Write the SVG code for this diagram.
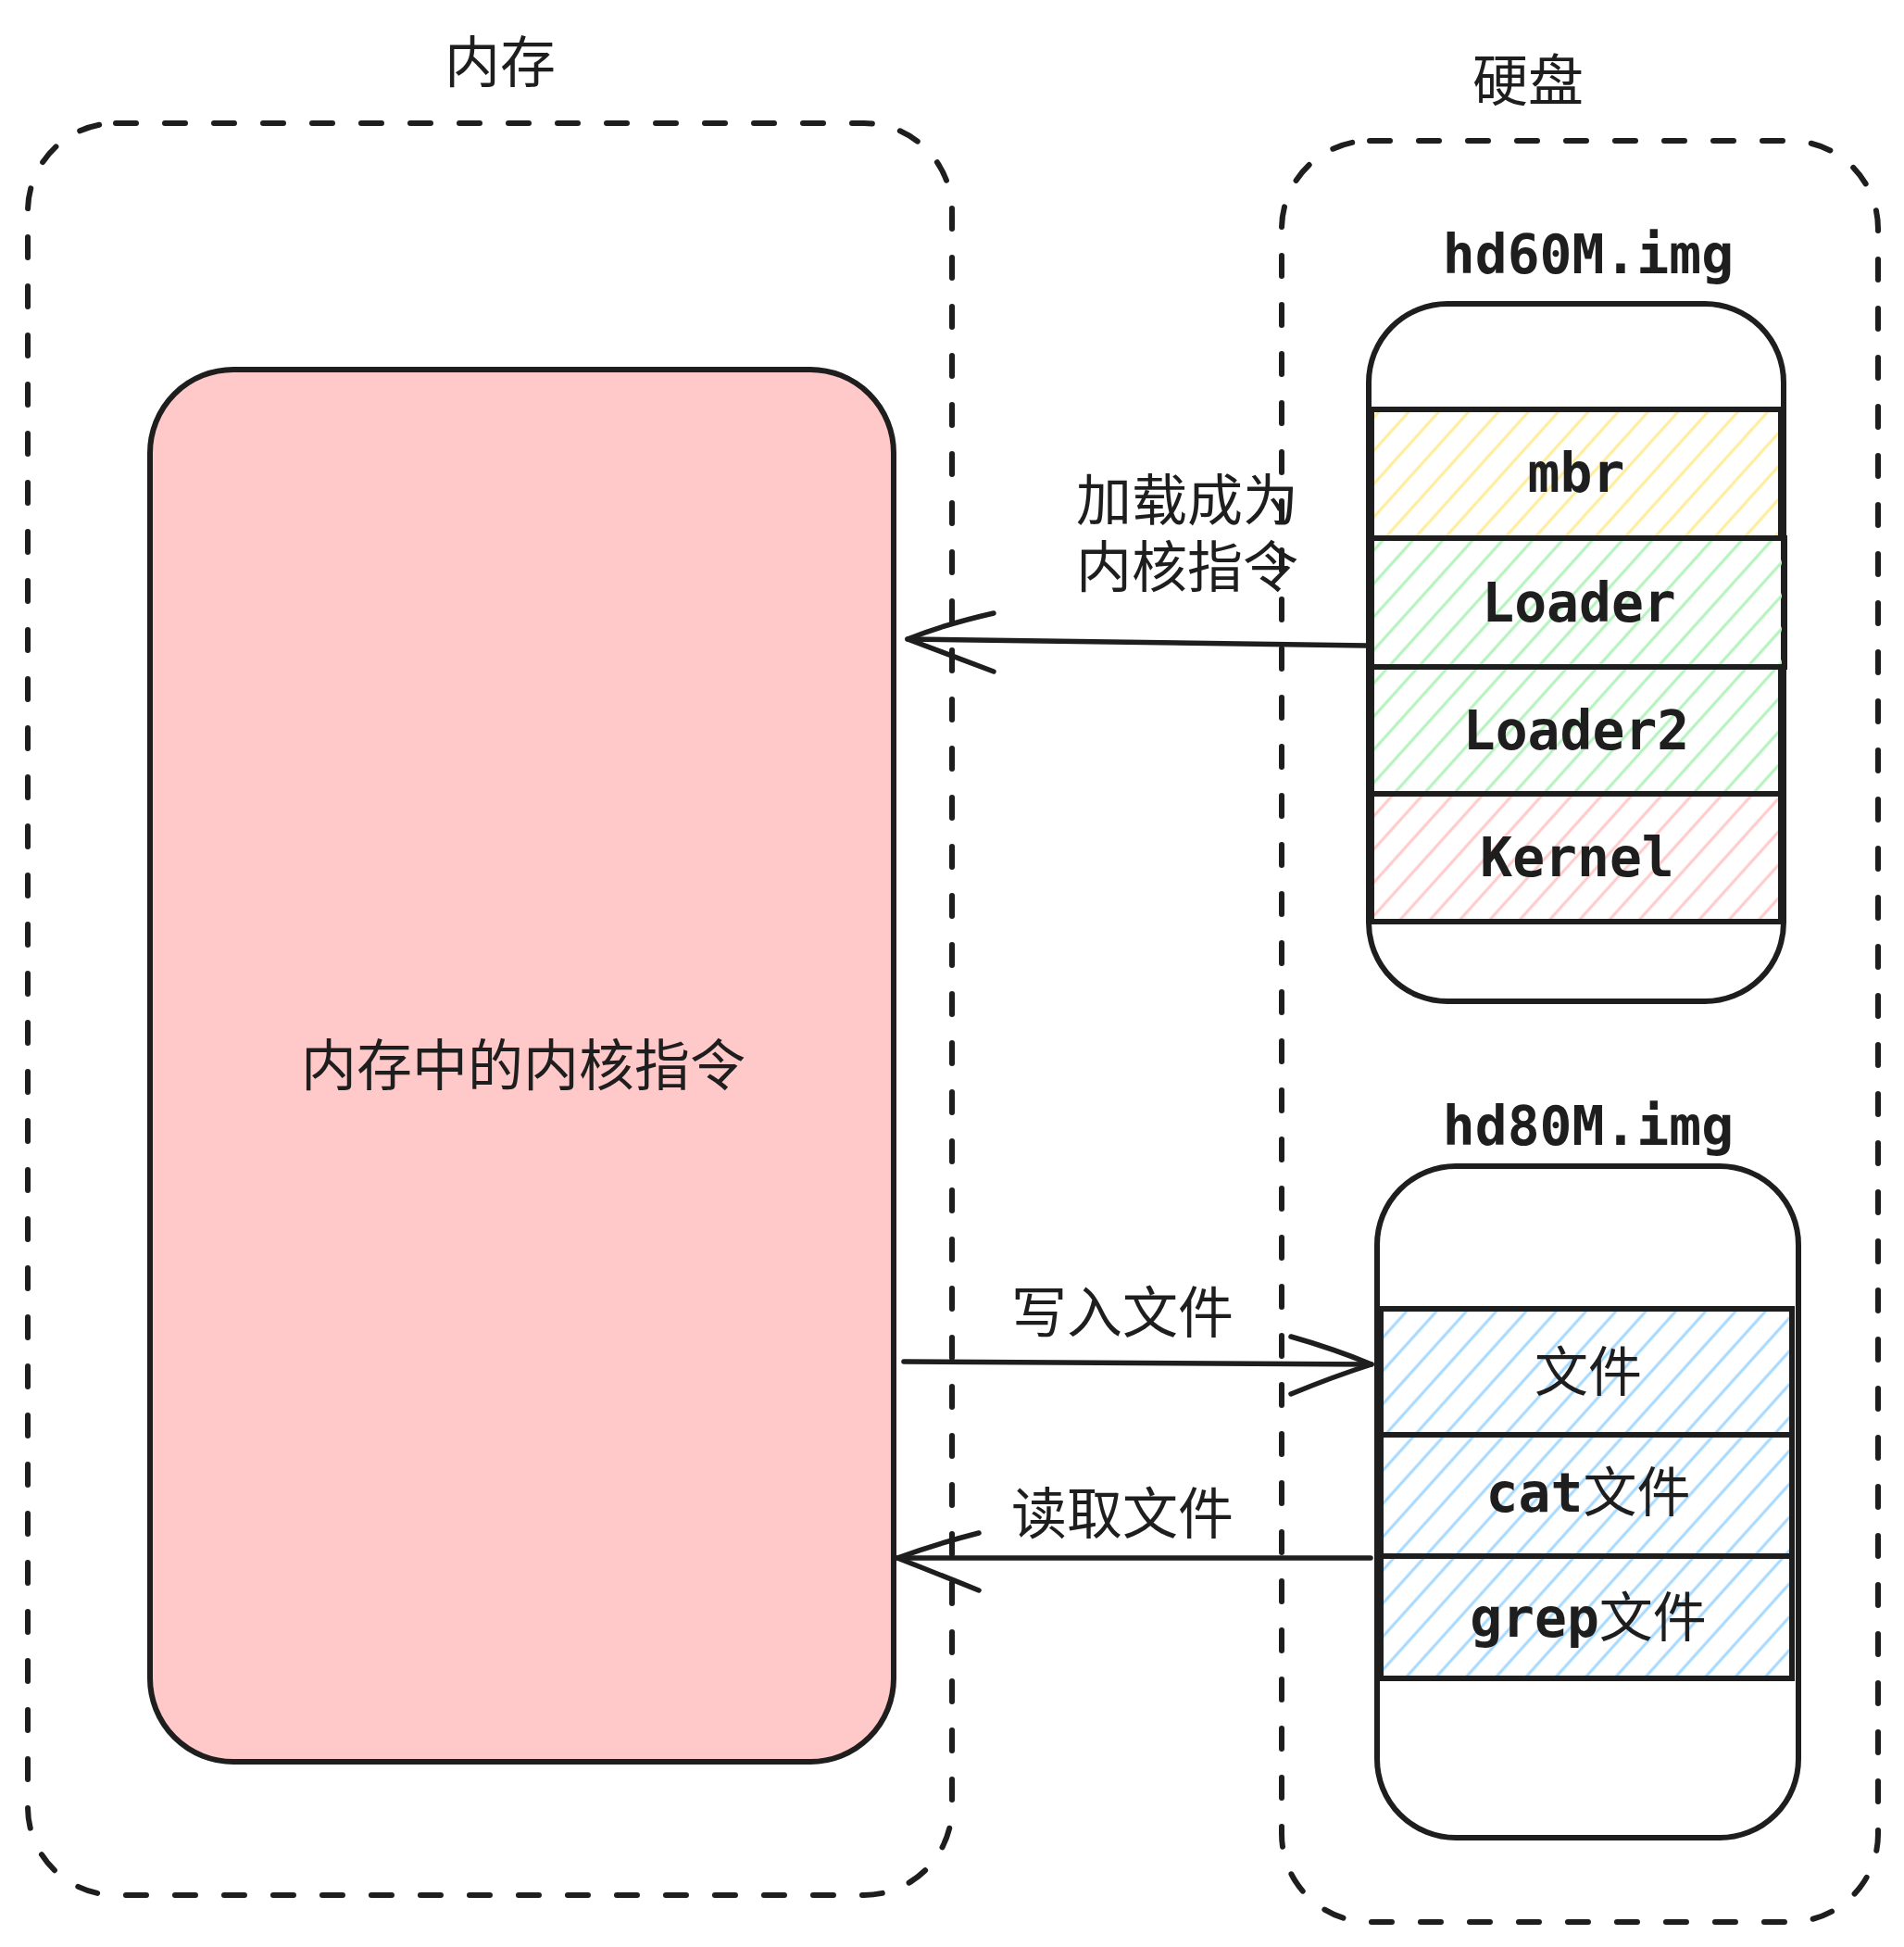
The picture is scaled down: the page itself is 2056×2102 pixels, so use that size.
<svg xmlns="http://www.w3.org/2000/svg" width="2056" height="2102" viewBox="0 0 2056 2102">
  <defs>
    <pattern id="hatchY" width="24" height="24" patternUnits="userSpaceOnUse" patternTransform="rotate(42)">
      <line x1="12" y1="-2" x2="12" y2="26" stroke="#ffec99" stroke-width="3"/>
    </pattern>
    <pattern id="hatchG" width="24" height="24" patternUnits="userSpaceOnUse" patternTransform="rotate(42)">
      <line x1="12" y1="-2" x2="12" y2="26" stroke="#b2f2bb" stroke-width="3"/>
    </pattern>
    <pattern id="hatchR" width="24" height="24" patternUnits="userSpaceOnUse" patternTransform="rotate(42)">
      <line x1="12" y1="-2" x2="12" y2="26" stroke="#ffc9c9" stroke-width="3"/>
    </pattern>
    <pattern id="hatchB" width="24" height="24" patternUnits="userSpaceOnUse" patternTransform="rotate(42)">
      <line x1="12" y1="-2" x2="12" y2="26" stroke="#a5d8ff" stroke-width="3"/>
    </pattern>
  </defs>
  <style>
    .container { fill: none; stroke: #1e1e1e; stroke-width: 6; stroke-dasharray: 22 31; stroke-linecap: round; }
    .box { stroke: #1e1e1e; stroke-width: 6; }
    .sec { stroke: #1e1e1e; stroke-width: 6; }
    .cjk { font-family: "Noto Sans CJK SC", "Noto Sans", sans-serif; font-size: 60px; fill: #1e1e1e; text-anchor: middle; }
    .mono { font-family: "DejaVu Sans Mono", "Noto Sans CJK SC", monospace; font-size: 58px; font-weight: bold; fill: #1e1e1e; text-anchor: middle; }
    .mono .c { font-family: "Noto Sans CJK SC", sans-serif; font-weight: normal; font-size: 58px; }
    .edge { fill: none; stroke: #1e1e1e; stroke-width: 5.5; stroke-linecap: round; stroke-linejoin: round; }
  </style>
  <rect width="2056" height="2102" fill="#ffffff"/>

  <g id="memory">
    <rect class="container" x="30" y="133" width="998" height="1913" rx="95" ry="95"/>
    <text class="cjk" x="540" y="89">内存</text>
  </g>

  <g id="disk">
    <rect class="container" x="1384" y="152" width="644" height="1923" rx="95" ry="95"/>
    <text class="cjk" x="1650" y="109">硬盘</text>
  </g>

  <g id="kernel-in-memory">
    <rect class="box" x="162" y="399" width="803" height="1503" rx="90" ry="90" fill="#ffc9c9"/>
    <text class="cjk" x="565" y="1172">内存中的内核指令</text>
  </g>

  <g id="hd60m">
    <text class="mono" x="1715" y="295">hd60M.img</text>
    <rect class="box" x="1478" y="328" width="448" height="753" rx="85" ry="85" fill="#ffffff"/>
    <g id="mbr">
      <rect class="sec" x="1481" y="442" width="442" height="139" fill="url(#hatchY)"/>
      <text class="mono" x="1702" y="531">mbr</text>
    </g>
    <g id="loader">
      <rect class="sec" x="1481" y="581" width="446" height="139" fill="url(#hatchG)"/>
      <text class="mono" x="1705" y="671">Loader</text>
    </g>
    <g id="loader2">
      <rect class="sec" x="1481" y="720" width="442" height="137" fill="url(#hatchG)"/>
      <text class="mono" x="1702" y="809">Loader2</text>
    </g>
    <g id="kernel">
      <rect class="sec" x="1481" y="857" width="442" height="138" fill="url(#hatchR)"/>
      <text class="mono" x="1703" y="946">Kernel</text>
    </g>
  </g>

  <g id="hd80m">
    <text class="mono" x="1715" y="1236">hd80M.img</text>
    <rect class="box" x="1487" y="1259" width="455" height="725" rx="85" ry="85" fill="#ffffff"/>
    <g id="file">
      <rect class="sec" x="1491" y="1413" width="444" height="136" fill="url(#hatchB)"/>
      <text class="mono" x="1715" y="1502"><tspan class="c">文件</tspan></text>
    </g>
    <g id="cat-file">
      <rect class="sec" x="1491" y="1549" width="444" height="131" fill="url(#hatchB)"/>
      <text class="mono" x="1715" y="1632">cat<tspan class="c">文件</tspan></text>
    </g>
    <g id="grep-file">
      <rect class="sec" x="1491" y="1680" width="444" height="132" fill="url(#hatchB)"/>
      <text class="mono" x="1715" y="1767">grep<tspan class="c">文件</tspan></text>
    </g>
  </g>

  <g id="connectors">
    <g id="load-arrow">
      <path class="edge" d="M1476 697 L980 690"/>
      <path class="edge" d="M1073 662 Q1020 674 980 690 Q1025 707 1073 725"/>
      <text class="cjk" x="1282" y="562">加载成为<tspan x="1282" dy="72">内核指令</tspan></text>
    </g>
    <g id="write-arrow">
      <path class="edge" d="M976 1470 L1481 1473"/>
      <path class="edge" d="M1394 1443 Q1440 1456 1481 1473 Q1440 1486 1394 1505"/>
      <text class="cjk" x="1212" y="1439">写入文件</text>
    </g>
    <g id="read-arrow">
      <path class="edge" d="M1480 1682 L969 1682"/>
      <path class="edge" d="M1057 1655 Q1010 1667 969 1682 Q1010 1698 1057 1717"/>
      <text class="cjk" x="1212" y="1656">读取文件</text>
    </g>
  </g>
</svg>
